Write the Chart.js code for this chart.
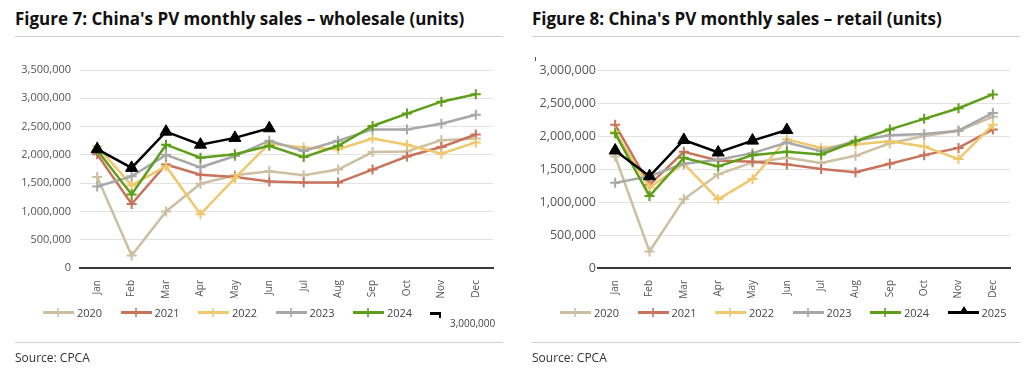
<!DOCTYPE html>
<html>
<head>
<meta charset="utf-8">
<script src="https://cdn.jsdelivr.net/npm/chart.js@4.4.1/dist/chart.umd.min.js"></script>
<style>
body{margin:0;background:#fff;font-family:"Open Sans",sans-serif;width:1024px;height:372px;overflow:hidden;position:relative;}
.title{position:absolute;top:7px;font-weight:bold;font-size:17px;color:#111;white-space:nowrap;}
.rule{position:absolute;height:1px;background:#d0d0d0;}
.src{position:absolute;top:349px;font-size:12px;color:#333;}
.cv{position:absolute;top:0;width:512px;height:372px;}
.legend{position:absolute;top:305px;display:flex;font-size:11px;color:#444;}
.li{display:flex;align-items:center;width:77.5px;}
.ln{position:relative;width:31px;height:3px;margin-right:3px;}
.ln i{position:absolute;left:14px;top:-3px;width:2px;height:9px;}
</style>
</head>
<body>

<div class="title" style="left:15px">Figure 7: China's PV monthly sales – wholesale (units)</div>
<div class="rule" style="left:15px;width:488px;top:36px"></div>
<div class="title" style="left:532px">Figure 8: China's PV monthly sales – retail (units)</div>
<div class="rule" style="left:532px;width:488px;top:36px"></div>

<div class="cv" style="left:0"><canvas id="wholesaleChart"></canvas></div>
<div class="cv" style="left:512px"><canvas id="retailChart"></canvas></div>

<div class="legend" id="legendLeft" style="left:43px"></div>
<div class="legend" id="legendRight" style="left:560px"></div>

<div style="position:absolute;left:430px;top:312px;width:11px;height:3px;background:#000"></div>
<div style="position:absolute;left:439px;top:312px;width:2px;height:6px;background:#000"></div>
<div style="position:absolute;left:450px;top:316px;font-size:10px;color:#444">3,000,000</div>
<div style="position:absolute;left:535px;top:57px;width:1px;height:4px;background:#555"></div>

<div class="rule" style="left:15px;width:488px;top:342px"></div>
<div class="rule" style="left:532px;width:488px;top:342px"></div>
<div class="src" style="left:15px">Source: CPCA</div>
<div class="src" style="left:532px">Source: CPCA</div>

<script>

// =============================
// DATA
// =============================

const months = ["Jan","Feb","Mar","Apr","May","Jun","Jul","Aug","Sep","Oct","Nov","Dec"];

const years = ["2020","2021","2022","2023","2024","2025"];
const colors = ["#CDBFA2","#C8735C","#EFC86E","#A8A8A8","#5E9E1A","#000000"];

// wholesale
const w2020 = [1610000,220000,1000000,1490000,1640000,1710000,1640000,1740000,2050000,2060000,2260000,2290000];
const w2021 = [2010000,1130000,1830000,1650000,1610000,1530000,1510000,1510000,1740000,1970000,2140000,2360000];
const w2022 = [2150000,1460000,1800000,950000,1590000,2200000,2130000,2100000,2290000,2180000,2020000,2220000];
const w2023 = [1440000,1620000,2000000,1780000,1980000,2250000,2070000,2250000,2450000,2450000,2550000,2710000];
const w2024 = [2080000,1300000,2180000,1950000,2010000,2160000,1960000,2160000,2510000,2730000,2940000,3070000];
const w2025 = [2100000,1770000,2410000,2180000,2300000,2470000];

// retail
const r2020 = [1690000,250000,1040000,1420000,1600000,1670000,1590000,1700000,1890000,2000000,2080000,2290000];
const r2021 = [2170000,1260000,1760000,1630000,1610000,1570000,1500000,1450000,1580000,1710000,1820000,2100000];
const r2022 = [2060000,1220000,1580000,1040000,1350000,1950000,1820000,1870000,1920000,1840000,1650000,2170000];
const r2023 = [1290000,1390000,1580000,1640000,1740000,1900000,1770000,1930000,2010000,2030000,2080000,2350000];
const r2024 = [2040000,1090000,1670000,1540000,1710000,1760000,1720000,1920000,2100000,2260000,2420000,2630000];
const r2025 = [1780000,1390000,1940000,1750000,1930000,2090000];

// =============================
// CHART
// =============================

function makeDatasets(series){

    return series.map((data,i)=>{

        const black = years[i]==="2025";

        return {
            label:years[i],
            data:data,
            borderColor:colors[i],
            backgroundColor:colors[i],
            borderWidth:2.5,
            tension:0,
            pointStyle:black ? "triangle" : "cross",
            pointRadius:black ? 7 : 5,
            pointBorderWidth:black ? 1 : 2,
            pointBackgroundColor:colors[i],
            order:black ? 0 : 6-i
        };

    });

}

function buildChart(id, series, yMax, opts){

    const ctx = document.getElementById(id).getContext("2d");

    return new Chart(ctx,{

        type:"line",

        data:{
            labels:months,
            datasets:makeDatasets(series)
        },

        options:{

            responsive:true,
            maintainAspectRatio:false,
            animation:false,

            layout:{
                padding:{top:70,bottom:74,left:0,right:opts.right}
            },

            plugins:{
                legend:{display:false},
                tooltip:{enabled:false}
            },

            scales:{

                x:{
                    offset:true,
                    afterFit:s=>{ s.height = 30; },
                    ticks:{
                        color:"#555",
                        font:{family:"Open Sans",size:10},
                        minRotation:90,
                        maxRotation:90,
                        padding:4
                    },
                    grid:{display:false},
                    border:{color:"#3a3a3a",width:2}
                },

                y:{
                    min:0,
                    max:yMax,
                    afterFit:s=>{ s.width = opts.yWidth; },
                    ticks:{
                        stepSize:500000,
                        color:"#555",
                        padding:opts.tickPad,
                        font:{family:"Open Sans",size:opts.fontSize},
                        callback:v=>v.toLocaleString("en-US")
                    },
                    grid:{color:"#e2e2e2",drawTicks:false},
                    border:{display:false}
                }

            }

        }

    });

}

buildChart("wholesaleChart",[w2020,w2021,w2022,w2023,w2024,w2025],3500000,
    {right:19,yWidth:80,tickPad:9,fontSize:11});

buildChart("retailChart",[r2020,r2021,r2022,r2023,r2024,r2025],3000000,
    {right:14,yWidth:86,tickPad:2,fontSize:12.5});

// =============================
// LEGENDS
// =============================

function buildLegend(id,count){

    const box = document.getElementById(id);

    for(let i=0;i<count;i++){

        const item = document.createElement("div");
        item.className = "li";

        const black = years[i]==="2025";

        const mark = black
            ? '<i style="left:11px;top:-5px;width:0;height:0;border-left:5px solid transparent;border-right:5px solid transparent;border-bottom:8px solid #000;background:none"></i>'
            : '<i style="background:'+colors[i]+';opacity:.8"></i>';

        item.innerHTML =
            '<span class="ln" style="background:'+colors[i]+'">'+mark+'</span>'+years[i];

        box.appendChild(item);

    }

}

buildLegend("legendLeft",5);
buildLegend("legendRight",6);

</script>
</body>
</html>
